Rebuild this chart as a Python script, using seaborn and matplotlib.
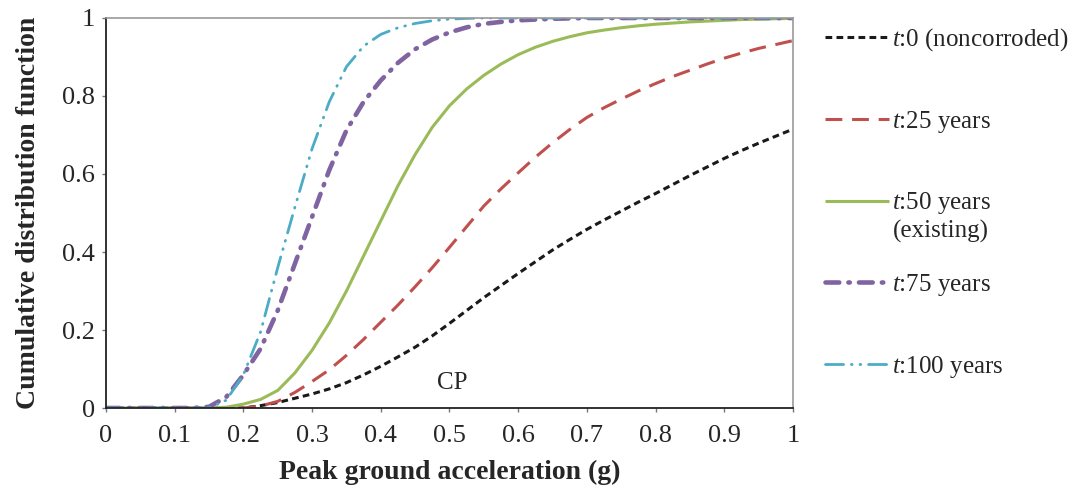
import numpy as np
import pandas as pd
import matplotlib
matplotlib.use("Agg")
import matplotlib.pyplot as plt
import seaborn as sns

pga = [0, 0.05, 0.1, 0.125, 0.15, 0.175, 0.2, 0.225, 0.25, 0.275, 0.3, 0.325, 0.35,
       0.375, 0.4, 0.425, 0.45, 0.475, 0.5, 0.525, 0.55, 0.575, 0.6, 0.625, 0.65,
       0.675, 0.7, 0.725, 0.75, 0.775, 0.8, 0.825, 0.85, 0.875, 0.9, 0.925, 0.95,
       0.975, 1.0]
cdf_t0 = [0, 0, 0, 0, 0, 0, 0, 0.006, 0.014, 0.025, 0.036, 0.049, 0.065,
          0.085, 0.107, 0.131, 0.156, 0.185, 0.217, 0.25, 0.283, 0.314, 0.345, 0.375, 0.405,
          0.432, 0.458, 0.482, 0.505, 0.528, 0.55, 0.573, 0.596, 0.618, 0.64, 0.66, 0.679,
          0.697, 0.715]
cdf_t25 = [0, 0, 0, 0, 0, 0, 0, 0.005, 0.017, 0.04, 0.068, 0.098, 0.135,
           0.176, 0.22, 0.264, 0.311, 0.36, 0.412, 0.465, 0.518, 0.562, 0.603, 0.643, 0.68,
           0.714, 0.745, 0.77, 0.792, 0.813, 0.832, 0.85, 0.866, 0.882, 0.897, 0.91, 0.922,
           0.932, 0.942]
cdf_t50 = [0, 0, 0, 0, 0, 0.002, 0.01, 0.022, 0.045, 0.09, 0.148, 0.218, 0.30,
           0.39, 0.48, 0.57, 0.65, 0.72, 0.775, 0.818, 0.853, 0.882, 0.906, 0.925, 0.94,
           0.952, 0.962, 0.969, 0.975, 0.98, 0.984, 0.987, 0.99, 0.992, 0.994, 0.996, 0.997,
           0.998, 0.999]
cdf_t75 = [0, 0, 0, 0, 0.003, 0.028, 0.085, 0.152, 0.25, 0.37, 0.49, 0.61, 0.712,
           0.785, 0.84, 0.885, 0.92, 0.945, 0.963, 0.976, 0.985, 0.99, 0.994, 0.996, 0.998,
           0.999, 1, 1, 1, 1, 1, 1, 1, 1, 1, 1, 1,
           1, 1]
cdf_t100 = [0, 0, 0, 0, 0, 0.02, 0.085, 0.195, 0.36, 0.515, 0.665, 0.785, 0.875,
            0.928, 0.958, 0.975, 0.986, 0.993, 0.997, 0.999, 1, 1, 1, 1, 1,
            1, 1, 1, 1, 1, 1, 1, 1, 1, 1, 1, 1,
            1, 1]

labels = ["$t$:0 (noncorroded)", "$t$:25 years", "$t$:50 years",
          "$t$:75 years", "$t$:100 years"]
extra_label = "(existing)"
series = [cdf_t0, cdf_t25, cdf_t50, cdf_t75, cdf_t100]
colors = ["#1a1a1a", "#c0504d", "#9bbb59", "#8064a2", "#4bacc6"]
widths = [2.2, 2.2, 2.2, 3.3, 2.0]
styles = [(0, (2.2, 1.4)), (0, (5.5, 3.2)), "-", (0, (3.0, 2.0, 0.3, 2.0)),
          (0, (6.5, 2.8, 0.3, 2.8, 0.3, 2.8))]
caps = ["butt", "butt", "butt", "round", "round"]

xticks = [0, 0.1, 0.2, 0.3, 0.4, 0.5, 0.6, 0.7, 0.8, 0.9, 1]
xticklabels = ["0", "0.1", "0.2", "0.3", "0.4", "0.5", "0.6", "0.7", "0.8", "0.9", "1"]
yticks = [0, 0.2, 0.4, 0.6, 0.8, 1]
yticklabels = ["0", "0.2", "0.4", "0.6", "0.8", "1"]

sns.set_style("ticks")
plt.rcParams["font.family"] = ["Liberation Serif", "DejaVu Serif"]
plt.rcParams["mathtext.fontset"] = "custom"
plt.rcParams["mathtext.it"] = "Liberation Serif:italic"
plt.rcParams["mathtext.rm"] = "Liberation Serif"

fig = plt.figure(figsize=(10.77, 4.93), dpi=100)
ax = fig.add_axes([0.0984, 0.1724, 0.6379, 0.7911])

for lab, ys, c, w, ls, cap in zip(labels, series, colors, widths, styles, caps):
    df = pd.DataFrame({"x": pga, "y": ys})
    sns.lineplot(data=df, x="x", y="y", ax=ax, color=c, linewidth=w,
                 linestyle=ls, label=lab, dash_capstyle=cap, solid_capstyle="butt")

ax.set_xlim(0, 1)
ax.set_ylim(0, 1)
ax.set_xticks(xticks)
ax.set_xticklabels(xticklabels)
ax.set_yticks(yticks)
ax.set_yticklabels(yticklabels)
ax.tick_params(axis="both", labelsize=19, direction="out", length=3, width=1,
               color="#777777")
ax.tick_params(axis="x", pad=9)
ax.tick_params(axis="y", pad=5)
for s in ["left", "bottom"]:
    ax.spines[s].set_color("#222222")
    ax.spines[s].set_linewidth(1.3)
for s in ["top", "right"]:
    ax.spines[s].set_color("#999999")
    ax.spines[s].set_linewidth(1.2)

ax.set_xlabel("Peak ground acceleration (g)", fontsize=20, fontweight="bold")
ax.set_ylabel("Cumulative distribution function", fontsize=20, fontweight="bold")
ax.xaxis.set_label_coords(0.5, -0.133)
ax.yaxis.set_label_coords(-0.095, 0.5)

ax.text(0.504, 0.064, "CP", fontsize=18, ha="center", va="center")

leg = ax.legend(loc="upper left", bbox_to_anchor=(1.032, 1.005), frameon=False,
                fontsize=18, handlelength=2.55, handletextpad=0.15,
                labelspacing=2.23, borderaxespad=0.0)

fig.canvas.draw()
tb = leg.get_texts()[2].get_window_extent()
fig.text(tb.x0 / fig.bbox.width, (tb.y0 - 4) / fig.bbox.height, extra_label,
         va="top", ha="left", fontsize=18)

fig.savefig("out.png", dpi=100)
